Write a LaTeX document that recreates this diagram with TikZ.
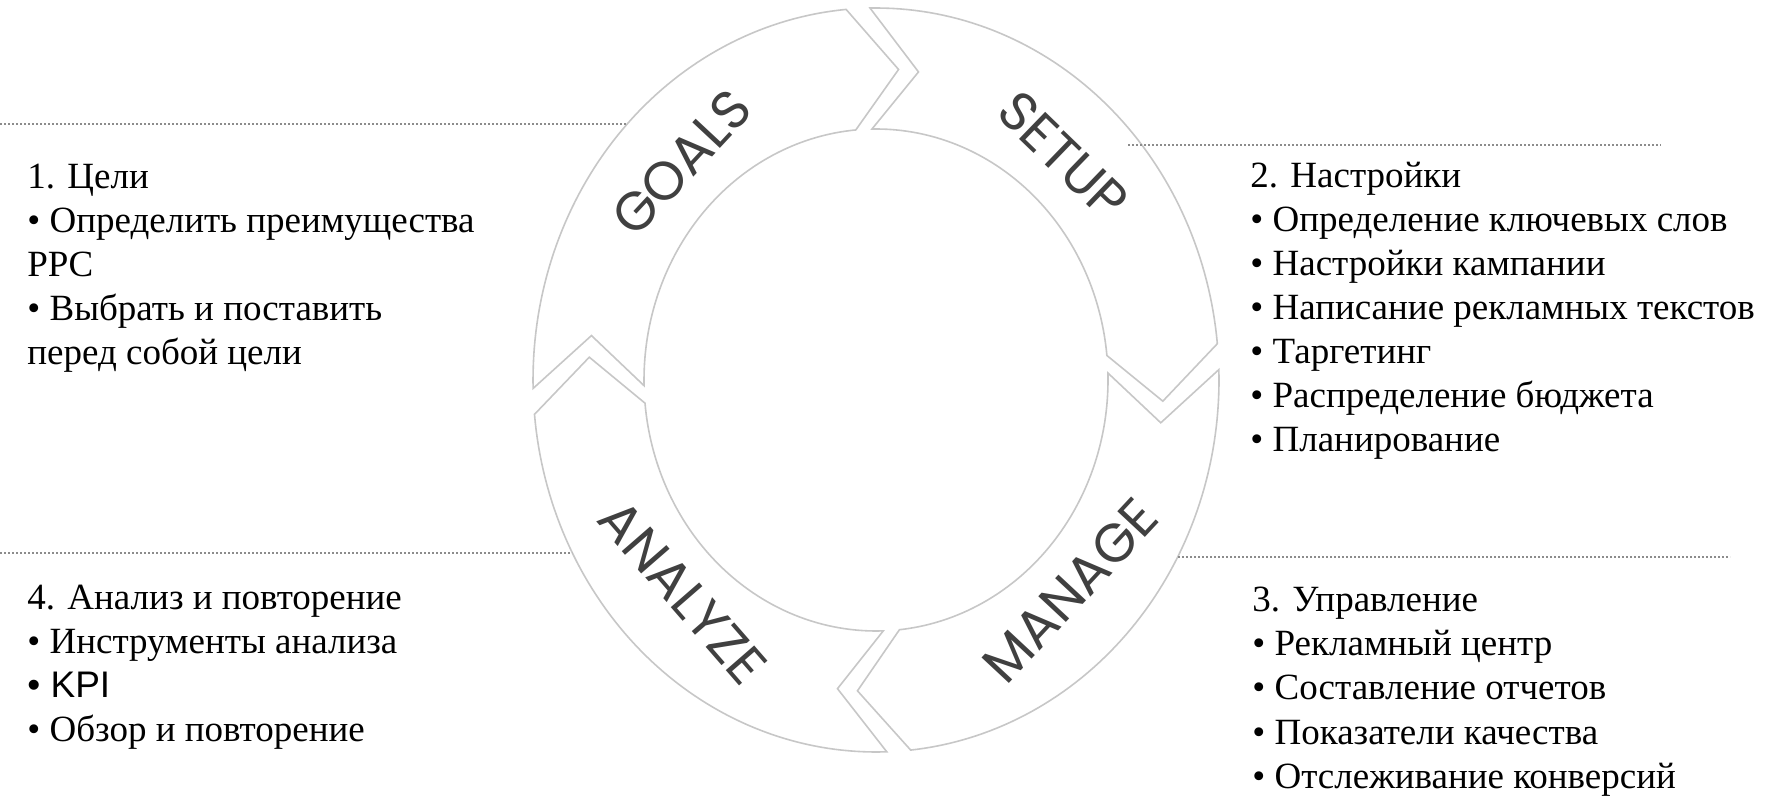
\documentclass[tikz,border=0pt]{standalone}
\usepackage{fontspec}
\setmainfont{Liberation Serif}
\newfontfamily\ringfont{Poppins}
\newfontfamily\kpifont{Liberation Sans}

\begin{document}
\begin{tikzpicture}[x=0.5pt,y=0.5pt,
        ring/.style={draw=black!22,line width=0.8pt,fill=white},
        ringlabel/.style={font=\ringfont\fontsize{27}{27}\selectfont,text=black!75,inner sep=0pt},
        dotline/.style={draw=black!45,line width=1.3pt,dash pattern=on 0.9pt off 1.1pt},
        txt/.style={font=\fontsize{18.5}{22}\selectfont,inner sep=0pt,anchor=base west}]
            \useasboundingbox (0,0) rectangle (1781,797);
            \def\cx{876}
            \def\cy{417}
            \foreach \s/\e in {183.3/93,93/3.6,363.6/273.8,273.8/183.3}{
                \pgfmathsetmacro\so{\s-2}
                \pgfmathsetmacro\eo{\e+2}
                \pgfmathsetmacro\tip{\e+2-9.5}
                \pgfmathsetmacro\notch{\s-2-9.5}
                \draw[ring] plot[domain=\so:\eo,samples=70] ({\cx+343*cos(\x)},{\cy+372*sin(\x)})
                    -- ({\cx+287.5*cos(\tip)},{\cy+311.5*sin(\tip)})
                    -- plot[domain=\eo:\so,samples=70] ({\cx+232*cos(\x)},{\cy+251*sin(\x)})
                    -- ({\cx+287.5*cos(\notch)},{\cy+311.5*sin(\notch)}) -- cycle;
            }
            \node[ringlabel,rotate=47] (goals) at ({\cx+280*cos(134)},{\cy+302*sin(134)}) {GOALS};
            \node[ringlabel,rotate=-44] (setup) at ({\cx+280*cos(48)},{\cy+302*sin(48)}) {SETUP};
            \node[ringlabel,rotate=47] (manage) at ({\cx+275*cos(-45)},{\cy+298*sin(-45)}) {MANAGE};
            \node[ringlabel,rotate=-49] (analyze) at ({\cx+275*cos(225.4)},{\cy+298*sin(225.4)}) {ANALYZE};
            \coordinate (gl0) at (0,673);
            \coordinate (gl1) at (627,673);
            \coordinate (sl0) at (1128,652);
            \coordinate (sl1) at (1661,652);
            \coordinate (al0) at (0,244);
            \coordinate (al1) at (572,244);
            \coordinate (ml0) at (1178,240);
            \coordinate (ml1) at (1730,240);
            \draw[dotline] (gl0) -- (gl1);
            \draw[dotline] (sl0) -- (sl1);
            \draw[dotline] (al0) -- (al1);
            \draw[dotline] (ml0) -- (ml1);
            \foreach \t [count=\i] in {1. Цели,• Определить преимущества,PPC,• Выбрать и поставить,перед собой цели}
                \node[txt] (goal\i) at (27,{608-(\i-1)*44}) {\t};
            \foreach \t [count=\i] in {2. Настройки,• Определение ключевых слов,• Настройки кампании,• Написание рекламных текстов,• Таргетинг,• Распределение бюджета,• Планирование}
                \node[txt] (setup\i) at (1250,{609-(\i-1)*44}) {\t};
            \foreach \t [count=\i] in {3. Управление,• Рекламный центр,• Составление отчетов,• Показатели качества,• Отслеживание конверсий}
                \node[txt] (manage\i) at (1252,{185-(\i-1)*44}) {\t};
            \foreach \t [count=\i] in {4. Анализ и повторение,• Инструменты анализа,{\kpifont • KPI},• Обзор и повторение}
                \node[txt] (analyze\i) at (27,{187-(\i-1)*44}) {\t};
        \end{tikzpicture}
\end{document}
